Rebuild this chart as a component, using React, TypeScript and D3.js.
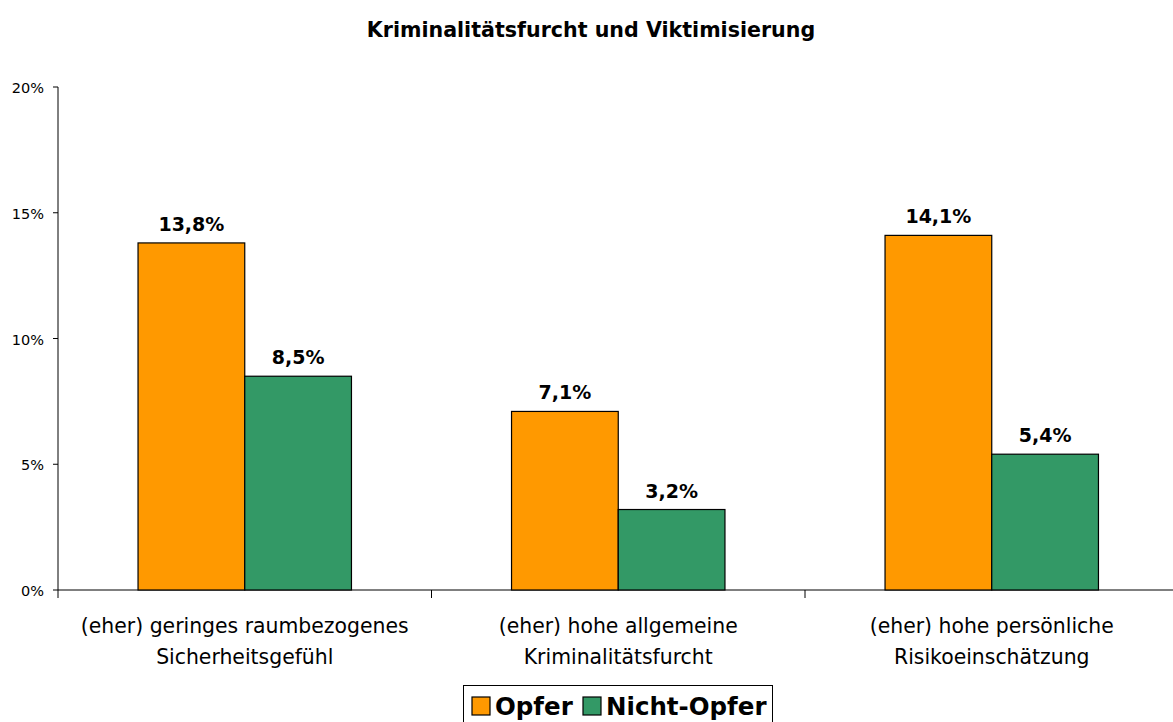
import React from "react";
import * as d3 from "d3";

const categories = [
  ["(eher) geringes raumbezogenes", "Sicherheitsgefühl"],
  ["(eher) hohe allgemeine", "Kriminalitätsfurcht"],
  ["(eher) hohe persönliche", "Risikoeinschätzung"],
];
const seriesNames = ["Opfer", "Nicht-Opfer"];
const opfer = [13.8, 7.1, 14.1];
const nichtOpfer = [8.5, 3.2, 5.4];
const yTicks = [0, 5, 10, 15, 20];
const colors = ["#FF9900", "#339966"];

const W = 1173, H = 722;
const left = 58, right = 1178.5, top = 87, bottom = 590;
const FONT = "Tahoma, 'DejaVu Sans', Verdana, sans-serif";

export default function App() {
  const x = d3.scaleBand<number>().domain([0, 1, 2]).range([left, right]).paddingInner(0).paddingOuter(0);
  const y = d3.scaleLinear().domain([0, 20]).range([bottom, top]);
  const bw = x.bandwidth();
  const barW = bw / 3.5;
  const series = [opfer, nichtOpfer];
  const fmt = (v: number) => v.toFixed(1).replace(".", ",") + "%";
  return (
    <svg width={W} height={H} style={{ position: "absolute", left: 0, top: 0, background: "#fff" }} fontFamily={FONT}>
      <text x={591} y={37} textAnchor="middle" fontWeight="bold" fontSize={20.6}>Kriminalitätsfurcht und Viktimisierung</text>
      {yTicks.map((t) => (
        <g key={t}>
          <line x1={left - 5} x2={left} y1={y(t)} y2={y(t)} stroke="#000" />
          <text x={left - 14} y={y(t) + 6} textAnchor="end" fontSize={14.5}>{t}%</text>
        </g>
      ))}
      <line x1={left} x2={left} y1={top} y2={bottom + 8} stroke="#000" />
      <line x1={left} x2={right} y1={bottom} y2={bottom} stroke="#000" />
      {[1, 2].map((i) => (
        <line key={i} x1={x(i)!} x2={x(i)!} y1={bottom} y2={bottom + 8} stroke="#000" />
      ))}
      {series.map((vals, s) =>
        vals.map((v, i) => {
          const bx = x(i)! + bw / 2 - barW + s * barW;
          return (
            <g key={`${s}-${i}`}>
              <rect x={bx} y={y(v)} width={barW} height={bottom - y(v)} fill={colors[s]} stroke="#000" strokeWidth={1.2} />
              <text x={bx + barW / 2} y={y(v) - 12} textAnchor="middle" fontWeight="bold" fontSize={19}>{fmt(v)}</text>
            </g>
          );
        })
      )}
      {categories.map((lines, i) => (
        <text key={i} x={x(i)! + bw / 2} textAnchor="middle" fontSize={20.4}>
          {lines.map((l, j) => (
            <tspan key={j} x={x(i)! + bw / 2} y={633 + j * 31}>{l}</tspan>
          ))}
        </text>
      ))}
      <g>
        <rect x={463.5} y={685.5} width={309} height={45} fill="#fff" stroke="#000" />
        {seriesNames.map((n, s) => {
          const ox = s === 0 ? 472 : 583;
          return (
            <g key={n}>
              <rect x={ox} y={697} width={18} height={18} fill={colors[s]} stroke="#000" strokeWidth={1.2} />
              <text x={ox + 23} y={715} fontWeight="bold" fontSize={24.5}>{n}</text>
            </g>
          );
        })}
      </g>
    </svg>
  );
}
